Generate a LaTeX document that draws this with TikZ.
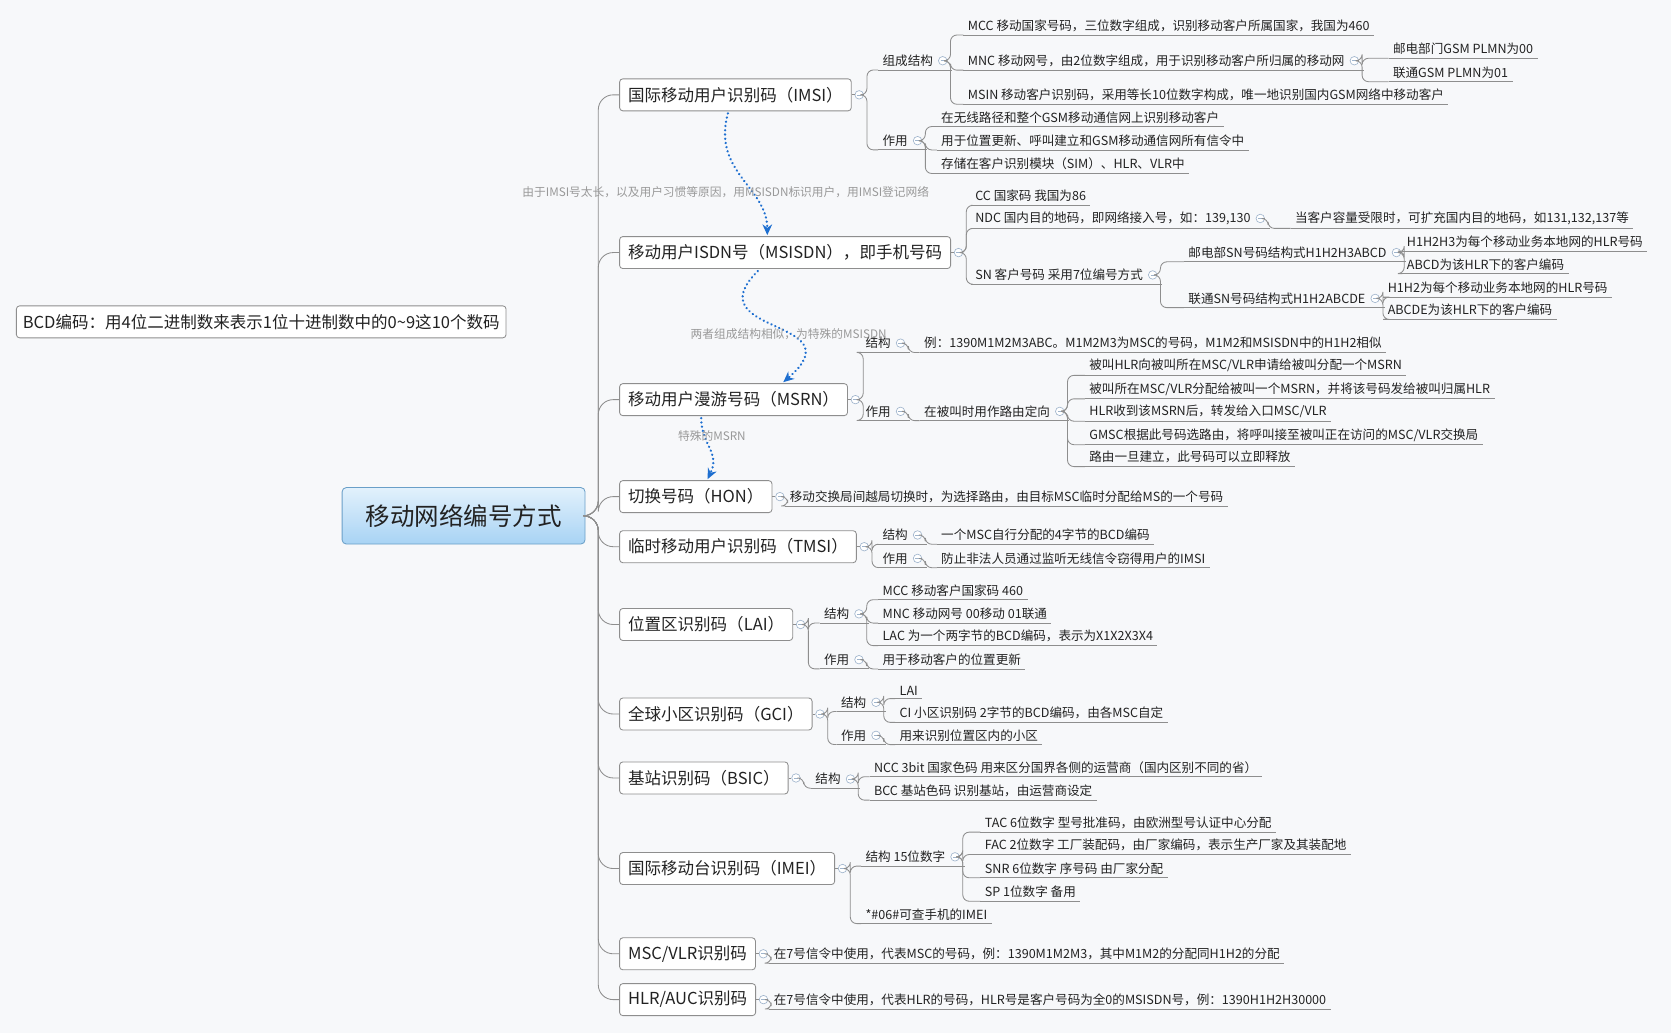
\documentclass[tikz,border=0pt]{standalone}
\usepackage{fontspec}
\setmainfont{Noto Sans CJK SC}
\usetikzlibrary{calc,arrows.meta}
\definecolor{bg}{HTML}{F7F8FA}
\definecolor{ln}{HTML}{8E8E8E}
\definecolor{tx}{HTML}{222222}
\definecolor{arr}{HTML}{1E6FD0}
\definecolor{rtop}{HTML}{E2F1FC}
\definecolor{rbot}{HTML}{A8D3F4}
\definecolor{rbd}{HTML}{6A9FC8}
\definecolor{cc}{HTML}{9FB4CC}
\tikzset{
  leaf/.style={anchor=west,inner xsep=4pt,inner ysep=3pt,text=tx,font=\fontsize{11.8}{13}\selectfont},
  uline/.style={draw=ln,line width=0.8pt},
  br/.style={draw=ln,line width=0.8pt,rounded corners=6pt},
  coll/.style={circle,draw=cc,fill=white,minimum size=8pt,inner sep=0pt,line width=0.6pt,
    path picture={\draw[cc,line width=0.6pt] ($(path picture bounding box.west)+(2pt,0)$) -- ($(path picture bounding box.east)+(-2pt,0)$);}},
  mbox/.style={anchor=west,draw=ln,fill=white,rounded corners=3pt,minimum height=30pt,inner xsep=8pt,text=tx,font=\fontsize{15.5}{17}\selectfont,line width=0.8pt},
  rootbox/.style={rounded corners=4pt,minimum width=228pt,minimum height=53pt,top color=rtop,bottom color=rbot,draw=rbd,line width=0.8pt,text=tx,font=\fontsize{23}{25}\selectfont},
  darr/.style={draw=arr,line width=2.4pt,line cap=round,dash pattern=on 0.01pt off 4pt,-{Stealth[length=10pt,width=9pt]}},
  glab/.style={text=gray!80,font=\fontsize{11}{12}\selectfont,inner sep=1pt}
}
\newcommand\mmleaf[4]{\node[leaf] (#1) at (#2-4,#3) {#4}; \draw[uline] (#1.south west) -- (#1.south east);}
\newcommand\mmleafc[4]{\node[leaf] (#1) at (#2-4,#3) {#4\kern14pt}; \draw[uline] (#1.south west) -- (#1.south east); \node[coll] (#1c) at ($(#1.east)+(-9,0)$) {};}
\newcommand\mmbox[4]{\node[mbox] (#1) at (#2,#3) {#4}; \node[coll] (#1c) at ($(#1.east)+(7,0)$) {}; \draw[uline] (#1.east) -- (#1c.west);}
\newcommand\mmconn[2]{\draw[br] (#1.east) -- ++(3,0) |- (#2.south west);}
\newcommand\mmroot[1]{\draw[draw=ln,line width=0.8pt,rounded corners=14pt] (root.east) -- ++(12,0) |- (#1.west);}
\begin{document}
\begin{tikzpicture}[x=1pt,y=-1pt]
\fill[bg] (0,0) rectangle (1568,969);
\useasboundingbox (0,0) rectangle (1568,969);

% root
\node[rootbox] (root) at (435,484) {移动网络编号方式};
\node[anchor=west,draw=ln,fill=white,rounded corners=3pt,minimum height=30pt,inner xsep=6pt,text=tx,font=\fontsize{15.5}{17}\selectfont,line width=0.8pt] (bcd) at (15,302) {BCD编码：用4位二进制数来表示1位十进制数中的0\textasciitilde 9这10个数码};

% main boxes
\mmbox{imsi}{581}{89}{国际移动用户识别码（IMSI）}
\mmbox{msisdn}{581}{237}{移动用户ISDN号（MSISDN），即手机号码}
\mmbox{msrn}{581}{375}{移动用户漫游号码（MSRN）}
\mmbox{hon}{581}{466}{切换号码（HON）}
\mmbox{tmsi}{581}{513}{临时移动用户识别码（TMSI）}
\mmbox{lai}{581}{586}{位置区识别码（LAI）}
\mmbox{gci}{581}{670}{全球小区识别码（GCI）}
\mmbox{bsic}{581}{730}{基站识别码（BSIC）}
\mmbox{imei}{581}{815}{国际移动台识别码（IMEI）}
\mmbox{mscvlr}{581}{895}{MSC/VLR识别码}
\mmbox{hlrauc}{581}{938}{HLR/AUC识别码}
\foreach \b in {imsi,msisdn,msrn,hon,tmsi,lai,gci,bsic,imei,mscvlr,hlrauc}{\mmroot{\b}}

% IMSI
\mmleafc{a1}{828}{57}{组成结构}
\mmleaf{a11}{908}{24}{MCC 移动国家号码，三位数字组成，识别移动客户所属国家，我国为460}
\mmleafc{a12}{908}{57}{MNC 移动网号，由2位数字组成，用于识别移动客户所归属的移动网}
\mmleaf{a121}{1307}{46}{邮电部门GSM PLMN为00}
\mmleaf{a122}{1307}{68}{联通GSM PLMN为01}
\mmleaf{a13}{908}{89}{MSIN 移动客户识别码，采用等长10位数字构成，唯一地识别国内GSM网络中移动客户}
\mmleafc{a2}{828}{132}{作用}
\mmleaf{a21}{883}{110}{在无线路径和整个GSM移动通信网上识别移动客户}
\mmleaf{a22}{883}{132}{用于位置更新、呼叫建立和GSM移动通信网所有信令中}
\mmleaf{a23}{883}{154}{存储在客户识别模块（SIM）、HLR、VLR中}
\mmconn{imsic}{a1}\mmconn{imsic}{a2}
\mmconn{a1c}{a11}\mmconn{a1c}{a12}\mmconn{a1c}{a13}
\mmconn{a12c}{a121}\mmconn{a12c}{a122}
\mmconn{a2c}{a21}\mmconn{a2c}{a22}\mmconn{a2c}{a23}

% MSISDN
\mmleaf{b1}{915}{184}{CC 国家码 我国为86}
\mmleafc{b2}{915}{205}{NDC 国内目的地码，即网络接入号，如：139,130}
\mmleaf{b21}{1215}{205}{当客户容量受限时，可扩充国内目的地码，如131,132,137等}
\mmleafc{b3}{915}{258}{SN 客户号码 采用7位编号方式}
\mmleafc{b31}{1115}{237}{邮电部SN号码结构式H1H2H3ABCD}
\mmleaf{b311}{1320}{227}{H1H2H3为每个移动业务本地网的HLR号码}
\mmleaf{b312}{1320}{248}{ABCD为该HLR下的客户编码}
\mmleafc{b32}{1115}{280}{联通SN号码结构式H1H2ABCDE}
\mmleaf{b321}{1302}{270}{H1H2为每个移动业务本地网的HLR号码}
\mmleaf{b322}{1302}{291}{ABCDE为该HLR下的客户编码}
\mmconn{msisdnc}{b1}\mmconn{msisdnc}{b2}\mmconn{msisdnc}{b3}
\mmconn{b2c}{b21}
\mmconn{b3c}{b31}\mmconn{b3c}{b32}
\mmconn{b31c}{b311}\mmconn{b31c}{b312}
\mmconn{b32c}{b321}\mmconn{b32c}{b322}

% MSRN
\mmleafc{c1}{812}{322}{结构}
\mmleaf{c11}{867}{322}{例：1390M1M2M3ABC。M1M2M3为MSC的号码，M1M2和MSISDN中的H1H2相似}
\mmleafc{c2}{812}{386}{作用}
\mmleafc{c21}{867}{386}{在被叫时用作路由定向}
\mmleaf{c211}{1022}{343}{被叫HLR向被叫所在MSC/VLR申请给被叫分配一个MSRN}
\mmleaf{c212}{1022}{365}{被叫所在MSC/VLR分配给被叫一个MSRN，并将该号码发给被叫归属HLR}
\mmleaf{c213}{1022}{386}{HLR收到该MSRN后，转发给入口MSC/VLR}
\mmleaf{c214}{1022}{408}{GMSC根据此号码选路由，将呼叫接至被叫正在访问的MSC/VLR交换局}
\mmleaf{c215}{1022}{429}{路由一旦建立，此号码可以立即释放}
\mmconn{msrnc}{c1}\mmconn{msrnc}{c2}
\mmconn{c1c}{c11}\mmconn{c2c}{c21}
\mmconn{c21c}{c211}\mmconn{c21c}{c212}\mmconn{c21c}{c213}\mmconn{c21c}{c214}\mmconn{c21c}{c215}

% HON
\mmleaf{d1}{741}{466}{移动交换局间越局切换时，为选择路由，由目标MSC临时分配给MS的一个号码}
\mmconn{honc}{d1}

% TMSI
\mmleafc{e1}{828}{502}{结构}
\mmleaf{e11}{883}{502}{一个MSC自行分配的4字节的BCD编码}
\mmleafc{e2}{828}{524}{作用}
\mmleaf{e21}{883}{524}{防止非法人员通过监听无线信令窃得用户的IMSI}
\mmconn{tmsic}{e1}\mmconn{tmsic}{e2}\mmconn{e1c}{e11}\mmconn{e2c}{e21}

% LAI
\mmleafc{f1}{773}{576}{结构}
\mmleaf{f11}{828}{554}{MCC 移动客户国家码 460}
\mmleaf{f12}{828}{576}{MNC 移动网号 00移动 01联通}
\mmleaf{f13}{828}{597}{LAC 为一个两字节的BCD编码，表示为X1X2X3X4}
\mmleafc{f2}{773}{619}{作用}
\mmleaf{f21}{828}{619}{用于移动客户的位置更新}
\mmconn{laic}{f1}\mmconn{laic}{f2}
\mmconn{f1c}{f11}\mmconn{f1c}{f12}\mmconn{f1c}{f13}\mmconn{f2c}{f21}

% GCI
\mmleafc{g1}{789}{659}{结构}
\mmleaf{g11}{844}{648}{LAI}
\mmleaf{g12}{844}{669}{CI 小区识别码 2字节的BCD编码，由各MSC自定}
\mmleafc{g2}{789}{690}{作用}
\mmleaf{g21}{844}{690}{用来识别位置区内的小区}
\mmconn{gcic}{g1}\mmconn{gcic}{g2}
\mmconn{g1c}{g11}\mmconn{g1c}{g12}\mmconn{g2c}{g21}

% BSIC
\mmleafc{h1}{765}{731}{结构}
\mmleaf{h11}{820}{720}{NCC 3bit 国家色码 用来区分国界各侧的运营商（国内区别不同的省）}
\mmleaf{h12}{820}{742}{BCC 基站色码 识别基站，由运营商设定}
\mmconn{bsicc}{h1}\mmconn{h1c}{h11}\mmconn{h1c}{h12}

% IMEI
\mmleafc{i1}{812}{804}{结构 15位数字}
\mmleaf{i11}{924}{772}{TAC 6位数字 型号批准码，由欧洲型号认证中心分配}
\mmleaf{i12}{924}{793}{FAC 2位数字 工厂装配码，由厂家编码，表示生产厂家及其装配地}
\mmleaf{i13}{924}{815}{SNR 6位数字 序号码 由厂家分配}
\mmleaf{i14}{924}{837}{SP 1位数字 备用}
\mmleaf{i2}{812}{858}{*\#06\#可查手机的IMEI}
\mmconn{imeic}{i1}\mmconn{imeic}{i2}
\mmconn{i1c}{i11}\mmconn{i1c}{i12}\mmconn{i1c}{i13}\mmconn{i1c}{i14}

% MSC/VLR, HLR/AUC
\mmleaf{j1}{726}{895}{在7号信令中使用，代表MSC的号码，例：1390M1M2M3，其中M1M2的分配同H1H2的分配}
\mmleaf{k1}{726}{938}{在7号信令中使用，代表HLR的号码，HLR号是客户号码为全0的MSISDN号，例：1390H1H2H30000}
\mmconn{mscvlrc}{j1}\mmconn{hlraucc}{k1}

% dotted relation arrows
\draw[darr] ($(imsi.south west)+(102,2)$) .. controls +(-15,55) and +(0,-45) .. ($(msisdn.north west)+(139,-1)$);
\draw[darr] ($(msisdn.south west)+(130,2)$) .. controls +(-60,60) and +(70,-60) .. ($(msrn.north west)+(154,-1)$);
\draw[darr] ($(msrn.south west)+(77,2)$) .. controls +(0,25) and +(12,-25) .. ($(hon.north west)+(83,-1)$);
\node[glab] (l1) at (681,180) {由于IMSI号太长，以及用户习惯等原因，用MSISDN标识用户，用IMSI登记网络};
\node[glab] (l2) at (740,314) {两者组成结构相似，为特殊的MSISDN};
\node[glab] (l3) at (668,409) {特殊的MSRN};
\end{tikzpicture}
\end{document}
